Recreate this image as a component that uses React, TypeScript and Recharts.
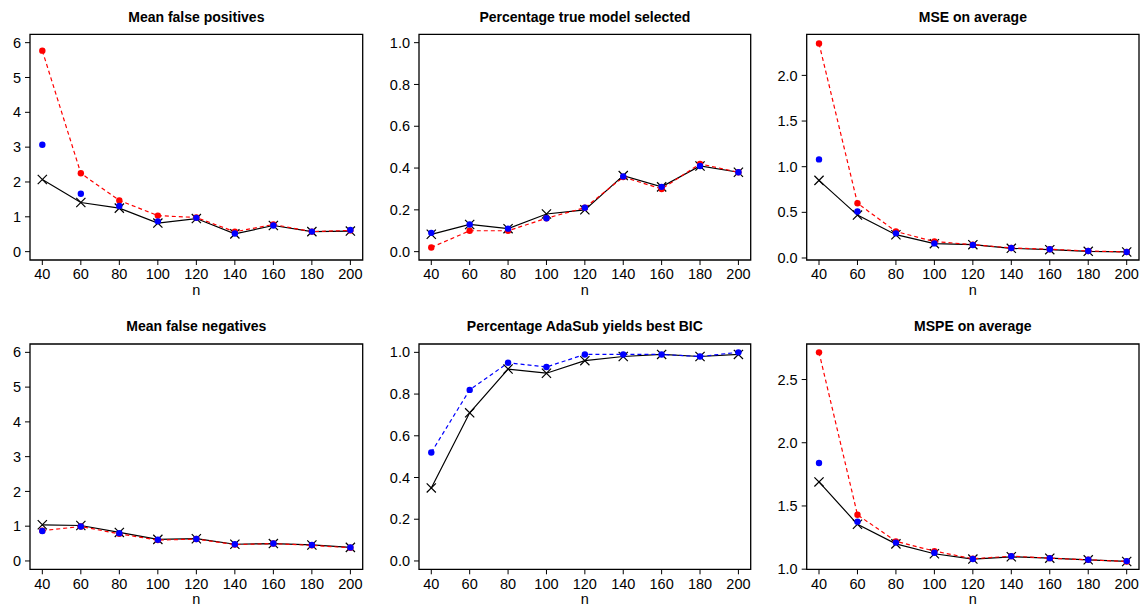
import React from 'react';
import { ComposedChart, Line, XAxis, YAxis, ReferenceArea } from 'recharts';

const N = [40, 60, 80, 100, 120, 140, 160, 180, 200];
const X_TICKS = [40, 60, 80, 100, 120, 140, 160, 180, 200];

const fpBlack = [2.07, 1.41, 1.25, 0.82, 0.95, 0.51, 0.75, 0.575, 0.59];
const fpRed = [5.77, 2.25, 1.47, 1.035, 0.98, 0.57, 0.78, 0.575, 0.61];
const fpBlue = [3.07, 1.66, 1.31, 0.87, 0.97, 0.52, 0.75, 0.575, 0.62];

const tmBlack = [0.083, 0.13, 0.11, 0.18, 0.2, 0.364, 0.31, 0.41, 0.38];
const tmRed = [0.02, 0.1, 0.1, 0.16, 0.21, 0.357, 0.3, 0.42, 0.38];
const tmBlue = [0.09, 0.13, 0.11, 0.16, 0.21, 0.36, 0.31, 0.41, 0.38];

const mseBlack = [0.85, 0.47, 0.255, 0.157, 0.146, 0.106, 0.091, 0.073, 0.066];
const mseRed = [2.35, 0.6, 0.29, 0.18, 0.146, 0.11, 0.095, 0.077, 0.066];
const mseBlue = [1.08, 0.51, 0.27, 0.16, 0.142, 0.11, 0.095, 0.077, 0.066];

const fnBlack = [1.04, 1.02, 0.82, 0.62, 0.64, 0.48, 0.5, 0.46, 0.39];
const fnRed = [0.87, 0.99, 0.78, 0.6, 0.63, 0.47, 0.5, 0.45, 0.38];
const fnBlue = [0.86, 0.99, 0.8, 0.61, 0.63, 0.48, 0.5, 0.46, 0.39];

const bicBlack = [0.35, 0.71, 0.92, 0.9, 0.96, 0.98, 0.99, 0.98, 0.99];
const bicBlue = [0.52, 0.82, 0.95, 0.93, 0.99, 0.99, 0.99, 0.98, 1.0];

const mspeBlack = [1.69, 1.355, 1.2, 1.122, 1.08, 1.098, 1.087, 1.074, 1.061];
const mspeRed = [2.715, 1.43, 1.22, 1.143, 1.082, 1.103, 1.087, 1.074, 1.061];
const mspeBlue = [1.84, 1.376, 1.21, 1.13, 1.08, 1.103, 1.087, 1.074, 1.064];

const TITLES = [
  'Mean false positives',
  'Percentage true model selected',
  'MSE on average',
  'Mean false negatives',
  'Percentage AdaSub yields best BIC',
  'MSPE on average',
];

const FONT = '"Liberation Sans", Arial, Helvetica, sans-serif';
const X_DOMAIN: [number, number] = [33.6, 206.4];

type Series = {
  key: string;
  values: number[];
  color: string;
  line: boolean;
  dashed: boolean;
  marker: 'x' | 'dot';
};

const dotRenderer = (color: string) => (props: any) => {
  const { cx, cy, index } = props;
  if (cx == null || cy == null) return <g key={`d${index}`} />;
  return <circle key={`d${index}`} cx={cx} cy={cy} r={3.2} fill={color} stroke="none" />;
};

const crossRenderer = (color: string) => (props: any) => {
  const { cx, cy, index } = props;
  if (cx == null || cy == null) return <g key={`x${index}`} />;
  const s = 4.6;
  return (
    <path
      key={`x${index}`}
      d={`M${cx - s},${cy - s}L${cx + s},${cy + s}M${cx - s},${cy + s}L${cx + s},${cy - s}`}
      stroke={color}
      strokeWidth={1.2}
      fill="none"
    />
  );
};

type PanelProps = {
  left: number;
  top: number;
  width: number;
  height: number;
  plotLeft: number;
  plotRight: number;
  plotTop: number;
  plotBottom: number;
  yDomain: [number, number];
  yTicks: number[];
  yFmt: (v: number) => string;
  series: Series[];
  title: string;
};

function Panel(p: PanelProps) {
  const data = N.map((n, i) => {
    const row: any = { n };
    p.series.forEach((s) => {
      row[s.key] = s.values[i];
    });
    return row;
  });
  const xAxisHeight = p.height - p.plotBottom;
  const tickStyle = { fontSize: 14.5, fill: '#000', fontFamily: FONT };
  const cx = (p.plotLeft + p.plotRight) / 2;
  return (
    <div style={{ position: 'absolute', left: p.left, top: p.top, width: p.width, height: p.height }}>
      <ComposedChart
        width={p.width}
        height={p.height}
        data={data}
        margin={{ top: p.plotTop, right: p.width - p.plotRight, bottom: 0, left: 0 }}
      >
        <XAxis
          dataKey="n"
          type="number"
          domain={X_DOMAIN}
          ticks={X_TICKS}
          allowDataOverflow
          interval={0}
          height={xAxisHeight}
          axisLine={false}
          tickLine={{ stroke: '#000', strokeWidth: 1 }}
          tickSize={5}
          tickMargin={4}
          tick={tickStyle}
        />
        <YAxis
          type="number"
          domain={p.yDomain}
          ticks={p.yTicks}
          allowDataOverflow
          interval={0}
          width={p.plotLeft}
          axisLine={false}
          tickLine={{ stroke: '#000', strokeWidth: 1 }}
          tickSize={5}
          tickMargin={4}
          tick={tickStyle}
          tickFormatter={p.yFmt}
        />
        <ReferenceArea
          x1={X_DOMAIN[0]}
          x2={X_DOMAIN[1]}
          y1={p.yDomain[0]}
          y2={p.yDomain[1]}
          fill="none"
          stroke="#000"
          strokeWidth={1.3}
          ifOverflow="visible"
        />
        {p.series.map((s) => (
          <Line
            key={s.key}
            dataKey={s.key}
            type="linear"
            stroke={s.line ? s.color : 'transparent'}
            strokeWidth={s.line ? 1.2 : 0}
            strokeDasharray={s.dashed ? '4 3' : undefined}
            dot={s.marker === 'x' ? crossRenderer(s.color) : dotRenderer(s.color)}
            activeDot={false}
            isAnimationActive={false}
          />
        ))}
      </ComposedChart>
      <svg
        width={p.width}
        height={p.height}
        style={{ position: 'absolute', left: 0, top: 0, pointerEvents: 'none' }}
      >
        <text
          x={cx}
          y={p.plotTop - 12.8}
          textAnchor="middle"
          fontFamily={FONT}
          fontWeight="bold"
          fontSize={14}
          fill="#000"
        >
          {p.title}
        </text>
        <text x={cx} y={p.plotBottom + 35} textAnchor="middle" fontFamily={FONT} fontSize={14.5} fill="#000">
          n
        </text>
      </svg>
    </div>
  );
}

const int = (v: number) => String(v);
const one = (v: number) => v.toFixed(1);

const three = (black: number[], red: number[], blue: number[]): Series[] => [
  { key: 'black', values: black, color: '#000000', line: true, dashed: false, marker: 'x' },
  { key: 'red', values: red, color: '#ff0000', line: true, dashed: true, marker: 'dot' },
  { key: 'blue', values: blue, color: '#0000ff', line: false, dashed: false, marker: 'dot' },
];

export default function App() {
  const row0 = { top: 0, height: 300, plotTop: 34.3, plotBottom: 260 };
  const row1 = { top: 305, height: 301, plotTop: 39, plotBottom: 264.3 };
  const col0 = { left: 0, width: 380, plotLeft: 30, plotRight: 362.7 };
  const col1 = { left: 380, width: 380, plotLeft: 39, plotRight: 370.7 };
  const col2 = { left: 760, width: 385, plotLeft: 46.7, plotRight: 379 };
  return (
    <div
      style={{
        position: 'absolute',
        left: 0,
        top: 0,
        width: 1145,
        height: 606,
        background: '#fff',
        overflow: 'hidden',
      }}
    >
      <Panel
        {...row0}
        {...col0}
        yDomain={[-0.24, 6.24]}
        yTicks={[0, 1, 2, 3, 4, 5, 6]}
        yFmt={int}
        series={three(fpBlack, fpRed, fpBlue)}
        title={TITLES[0]}
      />
      <Panel
        {...row0}
        {...col1}
        yDomain={[-0.04, 1.04]}
        yTicks={[0, 0.2, 0.4, 0.6, 0.8, 1.0]}
        yFmt={one}
        series={three(tmBlack, tmRed, tmBlue)}
        title={TITLES[1]}
      />
      <Panel
        {...row0}
        {...col2}
        yDomain={[-0.022, 2.45]}
        yTicks={[0, 0.5, 1.0, 1.5, 2.0]}
        yFmt={one}
        series={three(mseBlack, mseRed, mseBlue)}
        title={TITLES[2]}
      />
      <Panel
        {...row1}
        {...col0}
        yDomain={[-0.24, 6.24]}
        yTicks={[0, 1, 2, 3, 4, 5, 6]}
        yFmt={int}
        series={three(fnBlack, fnRed, fnBlue)}
        title={TITLES[3]}
      />
      <Panel
        {...row1}
        {...col1}
        yDomain={[-0.04, 1.04]}
        yTicks={[0, 0.2, 0.4, 0.6, 0.8, 1.0]}
        yFmt={one}
        series={[
          { key: 'black', values: bicBlack, color: '#000000', line: true, dashed: false, marker: 'x' },
          { key: 'blue', values: bicBlue, color: '#0000ff', line: true, dashed: true, marker: 'dot' },
        ]}
        title={TITLES[4]}
      />
      <Panel
        {...row1}
        {...col2}
        yDomain={[0.999, 2.781]}
        yTicks={[1.0, 1.5, 2.0, 2.5]}
        yFmt={one}
        series={three(mspeBlack, mspeRed, mspeBlue)}
        title={TITLES[5]}
      />
    </div>
  );
}
